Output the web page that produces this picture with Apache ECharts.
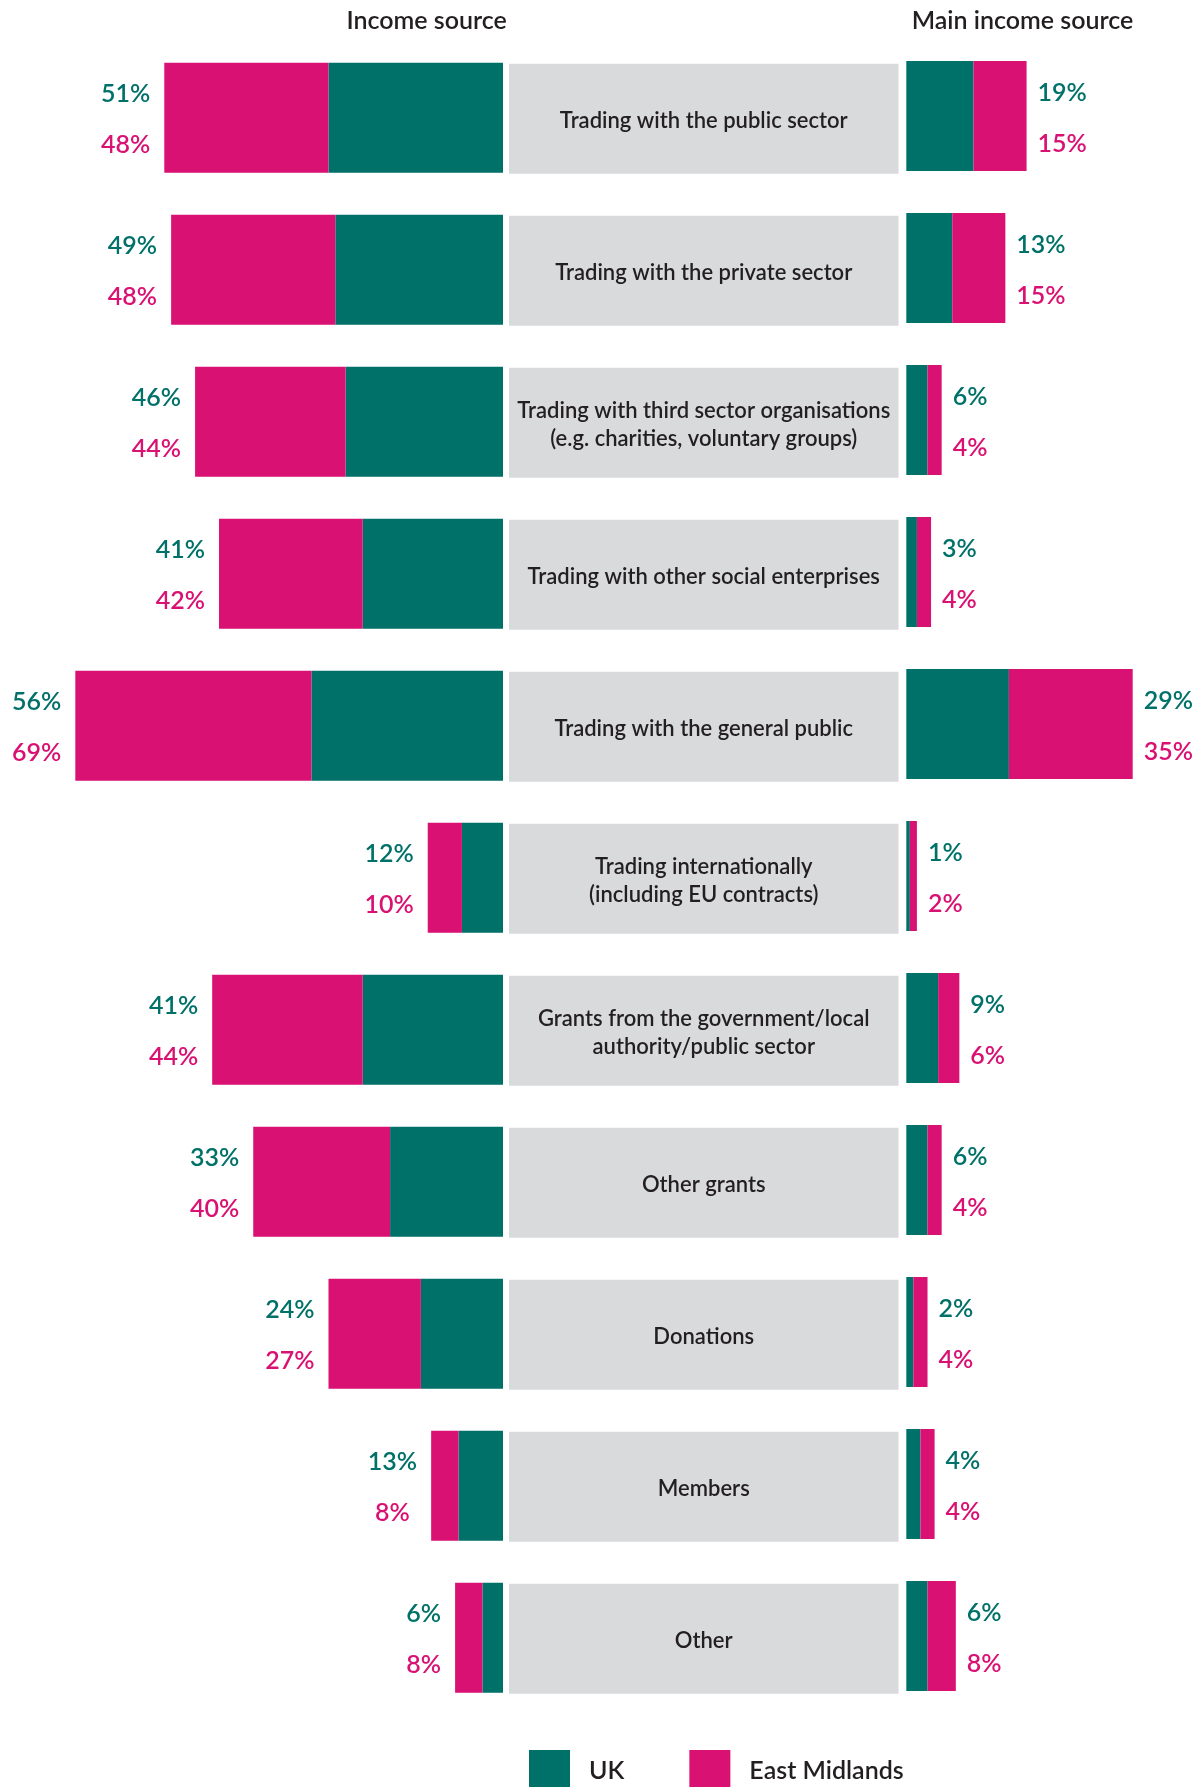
<!DOCTYPE html>
<html>
<head>
<meta charset="utf-8">
<script src="https://cdn.jsdelivr.net/npm/echarts@6/dist/echarts.min.js"></script>
<style>
  html, body { margin: 0; padding: 0; background: #ffffff; }
  #chart { width: 1199px; height: 1787px; }
</style>
</head>
<body>
<div id="chart"></div>
<script>
// Income source categories (top to bottom)
const categories = [
  'Trading with the public sector',
  'Trading with the private sector',
  'Trading with third sector organisations\n(e.g. charities, voluntary groups)',
  'Trading with other social enterprises',
  'Trading with the general public',
  'Trading internationally\n(including EU contracts)',
  'Grants from the government/local\nauthority/public sector',
  'Other grants',
  'Donations',
  'Members',
  'Other'
];

// Share receiving income from each source (%)
const ukIncome = [51, 49, 46, 41, 56, 12, 41, 33, 24, 13, 6];
const emIncome = [48, 48, 44, 42, 69, 10, 44, 40, 27, 8, 8];

// Share for which the source is the main income source (%)
const ukMain = [19, 13, 6, 3, 29, 1, 9, 6, 2, 4, 6];
const emMain = [15, 15, 4, 4, 35, 2, 6, 4, 4, 4, 8];

const seriesNames = ['UK', 'East Midlands'];
const panelTitles = ['Income source', 'Main income source'];

const TEAL = '#007169';
const PINK = '#d91173';
const GREY = '#d9dadc';
const INK = '#231f20';
const FONT = 'Lato, "Noto Sans", sans-serif';

const chart = echarts.init(document.getElementById('chart'), null, { renderer: 'canvas' });

const BAR_H = 110;
const GRID_H = 1672;

function valueRich() {
  return {
    u: { color: TEAL, fontSize: 25, fontWeight: 600, fontFamily: FONT, lineHeight: 51, align: 'center' },
    e: { color: PINK, fontSize: 25, fontWeight: 600, fontFamily: FONT, lineHeight: 51, align: 'center' }
  };
}

const catAxis = (gridIndex) => ({
  type: 'category', gridIndex, data: categories, inverse: true, show: false
});

const option = {
  backgroundColor: '#ffffff',
  animation: false,
  textStyle: { fontFamily: FONT },
  grid: [
    { left: 24, width: 479, top: 41.8, height: GRID_H },
    { left: 509, width: 389.5, top: 42.8, height: GRID_H },
    { left: 906.3, width: 283, top: 40, height: GRID_H }
  ],
  xAxis: [
    { type: 'value', gridIndex: 0, min: 0, max: 140, inverse: true, show: false },
    { type: 'value', gridIndex: 1, min: 0, max: 1, show: false },
    { type: 'value', gridIndex: 2, min: 0, max: 80, show: false }
  ],
  yAxis: [catAxis(0), catAxis(1), catAxis(2)],
  legend: {
    data: seriesNames,
    left: 529,
    top: 1750,
    padding: 0,
    icon: 'rect',
    itemWidth: 41,
    itemHeight: 41,
    itemGap: 65,
    selectedMode: false,
    textStyle: { fontSize: 25, fontWeight: 600, color: INK, fontFamily: FONT, padding: [0, 0, 0, 14] }
  },
  graphic: [
    { type: 'text', x: 426.6, y: 21, style: { text: panelTitles[0], fill: INK, font: '600 25px ' + FONT, align: 'center', verticalAlign: 'middle' } },
    { type: 'text', x: 1022.5, y: 21, style: { text: panelTitles[1], fill: INK, font: '600 25px ' + FONT, align: 'center', verticalAlign: 'middle' } }
  ],
  series: [
    {
      name: seriesNames[0], type: 'bar', xAxisIndex: 0, yAxisIndex: 0, stack: 'income',
      barWidth: BAR_H, data: ukIncome, itemStyle: { color: TEAL }
    },
    {
      name: seriesNames[1], type: 'bar', xAxisIndex: 0, yAxisIndex: 0, stack: 'income',
      barWidth: BAR_H, data: emIncome, itemStyle: { color: PINK },
      label: {
        show: true, position: 'left', distance: 14, offset: [0, 2],
        formatter: (p) => `{u|${ukIncome[p.dataIndex]}%}\n{e|${p.value}%}`,
        rich: valueRich()
      }
    },
    {
      name: 'panel', type: 'bar', xAxisIndex: 1, yAxisIndex: 1, silent: true,
      barWidth: BAR_H, data: categories.map(() => 1), itemStyle: { color: GREY },
      label: {
        show: true, position: 'inside', offset: [0, 2],
        formatter: (p) => categories[p.dataIndex],
        color: INK, fontSize: 22, fontWeight: 600, fontFamily: FONT, lineHeight: 28
      }
    },
    {
      name: seriesNames[0], type: 'bar', xAxisIndex: 2, yAxisIndex: 2, stack: 'main',
      barWidth: BAR_H, data: ukMain, itemStyle: { color: TEAL }
    },
    {
      name: seriesNames[1], type: 'bar', xAxisIndex: 2, yAxisIndex: 2, stack: 'main',
      barWidth: BAR_H, data: emMain, itemStyle: { color: PINK },
      label: {
        show: true, position: 'right', distance: 11, offset: [0, 2],
        formatter: (p) => `{u|${ukMain[p.dataIndex]}%}\n{e|${p.value}%}`,
        rich: valueRich()
      }
    }
  ]
};

chart.setOption(option);
</script>
</body>
</html>
